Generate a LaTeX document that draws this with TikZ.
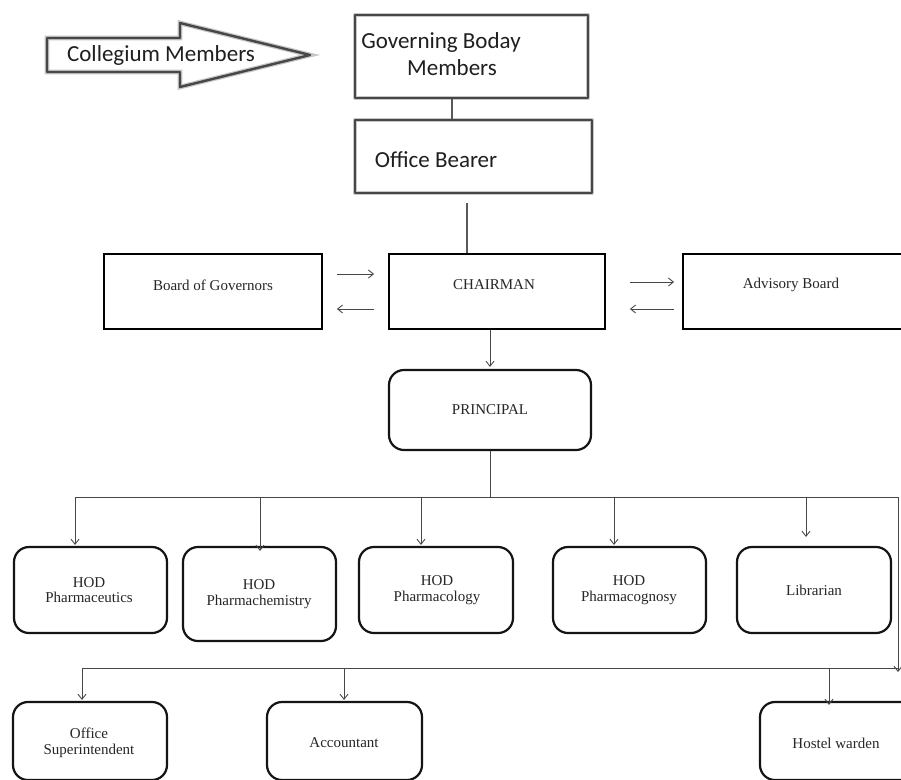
\documentclass[tikz,border=0pt]{standalone}
\usepackage{fontspec}
\setmainfont{Liberation Serif}
\newfontfamily\calib{Carlito}
\usetikzlibrary{arrows.meta,calc}
\tikzset{
  topline/.style={draw=black!72, line width=2.4pt, line join=round,
    preaction={draw=black!22, line width=4.8pt}},
  topbox/.style={topline, inner sep=0pt},
  toptext/.style={font=\calib\fontsize{23}{27}\selectfont, text=black!88, align=center, inner sep=0pt},
  sbox/.style={draw=black, line width=1.8pt, inner sep=0pt},
  rbox/.style={draw=black!92, line width=2.2pt, rounded corners=15pt, inner sep=0pt},
  serif/.style={font=\fontsize{15}{15.5}\selectfont, text=black!85, align=center, inner sep=0pt},
  thickln/.style={draw=black!65, line width=2.6pt},
  ln/.style={draw=black!72, line width=0.9pt},
  arr/.style={ln, -{Straight Barb[length=5pt,width=8pt]}}
}
\begin{document}
\begin{tikzpicture}[x=1pt,y=-1pt]
\clip (0,0) rectangle (901,779);
\fill[white] (0,0) rectangle (901,779);

% Collegium arrow
\draw[topline] (47,38) -- (180,38) -- (180,23) -- (310,55) -- (180,87) -- (180,72) -- (47,72) -- cycle;
\node[toptext] (colt) at (161,55) {Collegium Members};

% top boxes
\node[topbox, minimum width=233pt, minimum height=83pt] (gov) at (471.5,56.5) {};
\node[toptext] (govt) at (441,54) {Governing Boday\\\hspace*{22pt}Members};
\node[topbox, minimum width=237pt, minimum height=73pt] (office) at (473.5,156.5) {};
\node[toptext] (officet) at (436,160) {Office Bearer};

% second row
\node[sbox, minimum width=218pt, minimum height=75pt] (board) at (213,291.5) {};
\node[serif] (boardt) at (213,285) {Board of Governors};
\node[sbox, minimum width=216pt, minimum height=75pt] (chair) at (497,291.5) {};
\node[serif] (chairt) at (494,285) {CHAIRMAN};
\node[sbox, minimum width=232pt, minimum height=75pt] (adv) at (799,291.5) {};
\node[serif] (advt) at (791,285) {Advisory Board};

% connectors at top
\coordinate (g1) at (452,0);
\draw[thickln] (gov.south -| g1) -- (office.north -| g1);
\coordinate (o1) at (467,203);
\draw[thickln] (o1) -- (o1 |- chair.north);

% side arrows
\draw[arr] ([shift={(14,-17.5)}]board.east) -- ([shift={(-14,-17.5)}]chair.west);
\draw[arr] ([shift={(-14,17.5)}]chair.west) -- ([shift={(14,17.5)}]board.east);
\draw[arr] ([shift={(24,-9.5)}]chair.east) -- ([shift={(-8,-9.5)}]adv.west);
\draw[arr] ([shift={(-8,17.5)}]adv.west) -- ([shift={(24,17.5)}]chair.east);

% principal
\node[rbox, minimum width=202pt, minimum height=80pt] (prin) at (490,410) {};
\node[serif] (print) at (490,410) {PRINCIPAL};
\draw[arr] (chair.south -| prin.north) -- ([yshift=2pt]prin.north);

% HOD row
\node[rbox, minimum width=153pt, minimum height=86pt] (hp1) at (90.5,590) {};
\node[serif] (hp1t) at (89,590) {HOD\\Pharmaceutics};
\node[rbox, minimum width=153pt, minimum height=94pt] (hp2) at (259.5,594) {};
\node[serif] (hp2t) at (259,594) {HOD\\Pharmachemistry};
\node[rbox, minimum width=154pt, minimum height=86pt] (hp3) at (436,590) {};
\node[serif] (hp3t) at (437,590) {HOD\\Pharmacology};
\node[rbox, minimum width=153pt, minimum height=86pt] (hp4) at (629.5,590) {};
\node[serif] (hp4t) at (629,590) {HOD\\Pharmacognosy};
\node[rbox, minimum width=154pt, minimum height=86pt] (lib) at (814,590) {};
\node[serif] (libt) at (814,590) {Librarian};

% bus 1
\coordinate (bus) at (490,497);
\coordinate (busL) at (75,497);
\coordinate (busR) at (898,497);
\coordinate (d2) at (260,497);
\coordinate (d3) at (421,497);
\coordinate (d4) at (614,497);
\coordinate (d5) at (806,497);
\draw[ln] (prin.south) -- (bus);
\draw[ln] (busL) -- (busR);
\draw[arr] (busL) -- ([yshift=1pt]busL |- hp1.north);
\draw[arr] (d2) -- ([yshift=-5pt]d2 |- hp2.north);
\draw[arr] (d3) -- ([yshift=1pt]d3 |- hp3.north);
\draw[arr] (d4) -- ([yshift=1pt]d4 |- hp4.north);
\draw[arr] (d5) -- ([yshift=9pt]d5 |- lib.north);

% bottom row
\node[rbox, minimum width=154pt, minimum height=78pt] (os) at (90,741) {};
\node[serif] (ost) at (89,743) {Office\\Superintendent};
\node[rbox, minimum width=155pt, minimum height=78pt] (acc) at (344.5,741) {};
\node[serif] (acct) at (344,743) {Accountant};
\node[rbox, minimum width=155pt, minimum height=78pt] (hw) at (837.5,741) {};
\node[serif] (hwt) at (836,743) {Hostel warden};

% bus 2
\coordinate (bus2L) at (82,668);
\coordinate (bus2R) at (898,668);
\coordinate (e2) at (344,668);
\coordinate (e3) at (829,668);
\draw[arr] (busR) -- ([yshift=-4pt]bus2R);
\draw[ln] (bus2L) -- (bus2R);
\draw[arr] (bus2L) -- ([yshift=1pt]bus2L |- os.north);
\draw[arr] (e2) -- ([yshift=1pt]e2 |- acc.north);
\draw[arr] (e3) -- ([yshift=-4pt]e3 |- hw.north);
\end{tikzpicture}
\end{document}
